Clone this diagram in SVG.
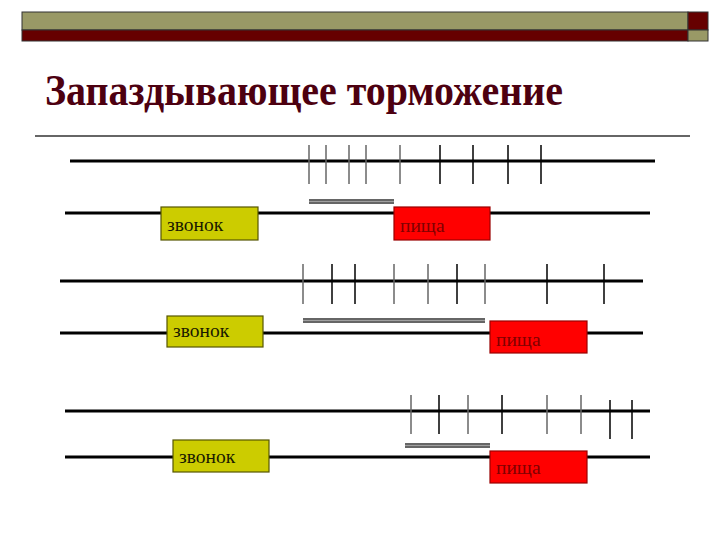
<svg xmlns="http://www.w3.org/2000/svg" width="720" height="540" viewBox="0 0 720 540">
<style>
.ln{stroke:#000;stroke-width:3;fill:none}
.tk{stroke:#000;stroke-width:1.5}
.tg{stroke:#666;stroke-width:1.5}
.dbl{stroke:#666;stroke-width:5}
.dbl2{stroke:#a0a0a0;stroke-width:1.2}
.zv{fill:#cccc00;stroke:#555500;stroke-width:1.2}
.pi{fill:#ff0000;stroke:#990000;stroke-width:1.2}
.tz{font-family:"Liberation Serif","Times New Roman",serif;font-size:19.5px;fill:#1a1a00}
.tp{font-family:"Liberation Serif","Times New Roman",serif;font-size:19.5px;fill:#800000}
</style>
<rect width="720" height="540" fill="#fff"/>
<g id="header">
<rect x="22" y="12" width="666" height="18" fill="#999966" stroke="#333" stroke-width="1"/>
<rect x="22" y="30" width="666" height="11" fill="#660000" stroke="#333" stroke-width="1"/>
<rect x="688" y="12" width="20" height="18" fill="#660000" stroke="#333" stroke-width="1"/>
<rect x="688" y="30" width="20" height="11" fill="#999966" stroke="#333" stroke-width="1"/>
</g>
<text id="title" x="45" y="105" font-family="Liberation Serif,'Times New Roman',serif" font-weight="bold" font-size="45" textLength="518" lengthAdjust="spacingAndGlyphs" fill="#4d0010">Запаздывающее торможение</text>
<line x1="35" y1="136" x2="690" y2="136" stroke="#666" stroke-width="2"/>
<g id="connectors">
<line class="ln" x1="70" y1="161" x2="655" y2="161"/>
<line class="ln" x1="65" y1="213" x2="650" y2="213"/>
<g>
<line class="tg" x1="309" y1="145" x2="309" y2="184"/>
<line class="tg" x1="326" y1="145" x2="326" y2="184"/>
<line class="tg" x1="349" y1="145" x2="349" y2="184"/>
<line class="tg" x1="366" y1="145" x2="366" y2="184"/>
<line class="tg" x1="400" y1="145" x2="400" y2="184"/>
<line class="tk" x1="440" y1="145" x2="440" y2="184"/>
<line class="tk" x1="473" y1="145" x2="473" y2="184"/>
<line class="tk" x1="508" y1="145" x2="508" y2="184"/>
<line class="tk" x1="541" y1="145" x2="541" y2="184"/>
</g>
<line class="dbl" x1="309" y1="201.5" x2="394" y2="201.5"/>
<line class="dbl2" x1="309" y1="201.5" x2="394" y2="201.5"/>
<line class="ln" x1="60" y1="281" x2="643" y2="281"/>
<line class="ln" x1="60" y1="333" x2="643" y2="333"/>
<g>
<line class="tg" x1="303" y1="264" x2="303" y2="304"/>
<line class="tk" x1="332" y1="264" x2="332" y2="304"/>
<line class="tk" x1="355" y1="264" x2="355" y2="304"/>
<line class="tg" x1="394" y1="264" x2="394" y2="304"/>
<line class="tg" x1="428" y1="264" x2="428" y2="304"/>
<line class="tk" x1="457" y1="264" x2="457" y2="304"/>
<line class="tg" x1="485" y1="264" x2="485" y2="304"/>
<line class="tk" x1="547" y1="264" x2="547" y2="304"/>
<line class="tk" x1="604" y1="264" x2="604" y2="304"/>
</g>
<line class="dbl" x1="303" y1="320.5" x2="485" y2="320.5"/>
<line class="dbl2" x1="303" y1="320.5" x2="485" y2="320.5"/>
<line class="ln" x1="65" y1="411" x2="650" y2="411"/>
<line class="ln" x1="65" y1="457" x2="650" y2="457"/>
<g>
<line class="tg" x1="411" y1="395" x2="411" y2="434"/>
<line class="tk" x1="439" y1="395" x2="439" y2="434"/>
<line class="tg" x1="468" y1="395" x2="468" y2="434"/>
<line class="tk" x1="502" y1="395" x2="502" y2="434"/>
<line class="tg" x1="547" y1="395" x2="547" y2="434"/>
<line class="tg" x1="581" y1="395" x2="581" y2="434"/>
<line class="tk" x1="610" y1="400" x2="610" y2="439"/>
<line class="tk" x1="632" y1="400" x2="632" y2="439"/>
</g>
<line class="dbl" x1="405" y1="445.5" x2="490" y2="445.5"/>
<line class="dbl2" x1="405" y1="445.5" x2="490" y2="445.5"/>
</g>
<g id="bell1"><rect class="zv" x="161" y="207" width="97" height="33"/><text class="tz" x="167" y="231">звонок</text></g>
<g id="food1"><rect class="pi" x="394" y="207" width="96" height="33"/><text class="tp" x="400" y="232">пища</text></g>
<g id="bell2"><rect class="zv" x="167" y="316" width="96" height="31"/><text class="tz" x="173" y="337">звонок</text></g>
<g id="food2"><rect class="pi" x="490" y="321" width="97" height="32"/><text class="tp" x="496" y="346">пища</text></g>
<g id="bell3"><rect class="zv" x="173" y="440" width="96" height="32"/><text class="tz" x="179" y="463">звонок</text></g>
<g id="food3"><rect class="pi" x="490" y="451" width="97" height="32"/><text class="tp" x="496" y="474">пища</text></g>
</svg>
